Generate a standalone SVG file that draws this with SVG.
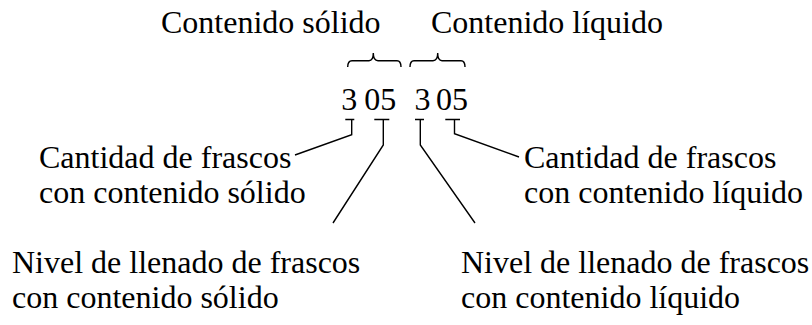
<svg xmlns="http://www.w3.org/2000/svg" width="812" height="325" viewBox="0 0 812 325">
<style>
text{font-family:"Liberation Serif","Times New Roman",serif;font-size:32px;fill:#000}
.c path,.c polyline{fill:none;stroke:#000;stroke-width:1.4}
</style>
<rect width="812" height="325" fill="#fff"/>
<g id="label-solido"><text x="161" y="33">Contenido sólido</text></g>
<g id="label-liquido"><text x="431" y="33">Contenido líquido</text></g>
<g id="code">
<text x="341.3" y="110">3</text>
<text x="364.2" y="110">05</text>
<text x="414.6" y="110">3</text>
<text x="435.9" y="110">05</text>
</g>
<g id="cant-solido"><text x="39" y="168">Cantidad de frascos</text><text x="39" y="203">con contenido sólido</text></g>
<g id="cant-liquido"><text x="524" y="168">Cantidad de frascos</text><text x="524" y="203">con contenido líquido</text></g>
<g id="nivel-solido"><text x="12" y="273">Nivel de llenado de frascos</text><text x="12" y="308">con contenido sólido</text></g>
<g id="nivel-liquido"><text x="461" y="273">Nivel de llenado de frascos</text><text x="461" y="308">con contenido líquido</text></g>
<g id="connectors" class="c">
<path d="M347.7,67 Q347.7,60.7 352,60.7 L369,60.7 Q373.3,60.7 373.3,53 Q373.3,60.7 378,60.7 L397,60.7 Q401,60.7 401,67"/>
<path d="M410,67 Q410,60.7 414,60.7 L433,60.7 Q437.7,60.7 437.7,53 Q437.7,60.7 442,60.7 L461,60.7 Q465,60.7 465,67"/>
<path d="M345.3,119.5 H354.3 M351.7,119.5 V134.7 L295,155"/>
<path d="M374.3,119.5 H389.3 M383.3,119.5 V145 L333,223"/>
<path d="M415,119.5 H424 M420.3,119.5 V145 L475,223"/>
<path d="M445.3,119.5 H460 M454.5,119.5 V133.7 L519,157"/>
</g>
</svg>
